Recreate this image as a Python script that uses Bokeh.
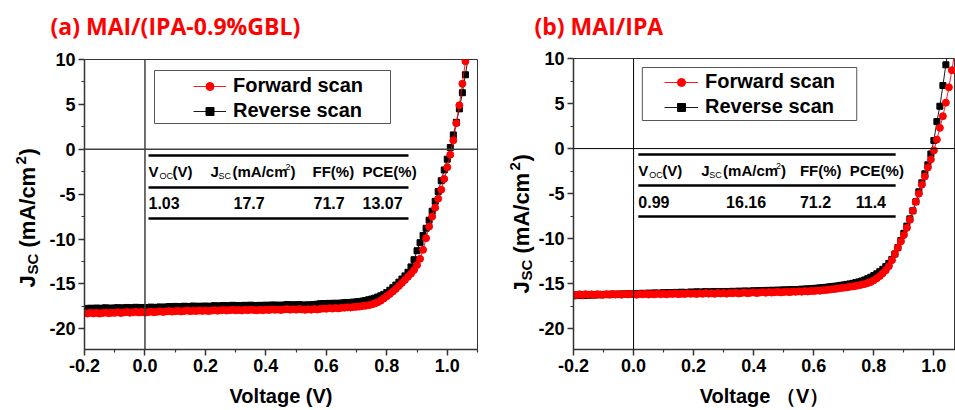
import numpy as np
from bokeh.plotting import figure
from bokeh.models import (Range1d, FixedTicker, Span, Legend, LegendItem,
                          BoxAnnotation, PrintfTickFormatter)
from bokeh.layouts import row, column
from bokeh.embed import file_html
from bokeh.resources import INLINE
from bokeh.core.properties import value

# ---------------- data ----------------
voltage = [
    -0.20, -0.19, -0.18, -0.17, -0.16, -0.15, -0.14, -0.13, -0.12, -0.11,
    -0.10, -0.09, -0.08, -0.07, -0.06, -0.05, -0.04, -0.03, -0.02, -0.01,
    0.00, 0.01, 0.02, 0.03, 0.04, 0.05, 0.06, 0.07, 0.08, 0.09,
    0.10, 0.11, 0.12, 0.13, 0.14, 0.15, 0.16, 0.17, 0.18, 0.19,
    0.20, 0.21, 0.22, 0.23, 0.24, 0.25, 0.26, 0.27, 0.28, 0.29,
    0.30, 0.31, 0.32, 0.33, 0.34, 0.35, 0.36, 0.37, 0.38, 0.39,
    0.40, 0.41, 0.42, 0.43, 0.44, 0.45, 0.46, 0.47, 0.48, 0.49,
    0.50, 0.51, 0.52, 0.53, 0.54, 0.55, 0.56, 0.57, 0.58, 0.59,
    0.60, 0.61, 0.62, 0.63, 0.64, 0.65, 0.66, 0.67, 0.68, 0.69,
    0.70, 0.71, 0.72, 0.73, 0.74, 0.75, 0.76, 0.77, 0.78, 0.79,
    0.80, 0.81, 0.82, 0.83, 0.84, 0.85, 0.86, 0.87, 0.88, 0.89,
    0.90, 0.91, 0.92, 0.93, 0.94, 0.95, 0.96, 0.97, 0.98, 0.99,
    1.00, 1.01, 1.02, 1.03, 1.04, 1.05, 1.06, 1.07,
]

a_forward = [
    -18.25, -18.30, -18.20, -18.28, -18.22, -18.30, -18.24, -18.18, -18.26, -18.20,
    -18.22, -18.15, -18.24, -18.18, -18.12, -18.20, -18.16, -18.10, -18.18, -18.12,
    -18.20, -18.14, -18.08, -18.15, -18.10, -18.05, -18.12, -18.06, -18.02, -18.08,
    -18.04, -18.00, -18.06, -18.02, -17.96, -18.03, -17.98, -18.02, -17.95, -18.00,
    -17.96, -18.02, -17.97, -17.92, -17.98, -17.94, -17.90, -17.96, -17.92, -17.88,
    -17.94, -17.90, -17.95, -17.88, -17.92, -17.86, -17.90, -17.94, -17.88, -17.92,
    -17.86, -17.90, -17.84, -17.88, -17.85, -17.90, -17.84, -17.80, -17.86, -17.82,
    -17.86, -17.80, -17.84, -17.88, -17.82, -17.86, -17.80, -17.84, -17.78, -17.74,
    -17.76, -17.70, -17.74, -17.68, -17.72, -17.66, -17.64, -17.60, -17.62, -17.56,
    -17.55, -17.52, -17.46, -17.42, -17.36, -17.28, -17.18, -17.04, -16.86, -16.62,
    -16.38, -16.12, -15.85, -15.55, -15.22, -14.88, -14.55, -14.20, -13.85, -13.45,
    -12.90, -12.20, -11.20, -9.90, -8.60, -7.50, -6.50, -5.50, -4.50, -3.30,
    -2.00, -0.60, 1.00, 2.90, 4.90, 7.30, 9.80, 12.30,
]

a_reverse = [
    -17.72, -17.78, -17.70, -17.76, -17.68, -17.74, -17.70, -17.66, -17.74, -17.68,
    -17.70, -17.64, -17.72, -17.66, -17.62, -17.70, -17.64, -17.60, -17.66, -17.62,
    -17.68, -17.62, -17.58, -17.64, -17.60, -17.56, -17.62, -17.56, -17.52, -17.58,
    -17.50, -17.56, -17.52, -17.48, -17.54, -17.50, -17.46, -17.52, -17.48, -17.50,
    -17.46, -17.52, -17.47, -17.42, -17.48, -17.44, -17.40, -17.46, -17.42, -17.38,
    -17.44, -17.40, -17.45, -17.38, -17.42, -17.36, -17.40, -17.44, -17.38, -17.42,
    -17.36, -17.40, -17.34, -17.38, -17.35, -17.40, -17.34, -17.30, -17.36, -17.32,
    -17.36, -17.30, -17.34, -17.38, -17.32, -17.36, -17.30, -17.26, -17.20, -17.18,
    -17.22, -17.16, -17.20, -17.14, -17.18, -17.12, -17.10, -17.06, -17.08, -17.02,
    -17.00, -16.96, -16.90, -16.84, -16.76, -16.68, -16.58, -16.46, -16.32, -16.16,
    -15.95, -15.70, -15.42, -15.12, -14.80, -14.45, -14.10, -13.70, -13.10, -12.30,
    -11.30, -10.40, -9.60, -8.80, -7.90, -6.90, -5.80, -4.70, -3.50, -2.30,
    -1.10, 0.20, 1.60, 3.00, 4.50, 6.30, 8.30, 10.40,
]

b_forward = [
    -16.20, -16.26, -16.18, -16.24, -16.16, -16.22, -16.18, -16.24, -16.16, -16.20,
    -16.22, -16.16, -16.20, -16.14, -16.20, -16.16, -16.22, -16.14, -16.18, -16.12,
    -16.18, -16.22, -16.14, -16.18, -16.12, -16.20, -16.14, -16.18, -16.10, -16.16,
    -16.12, -16.18, -16.10, -16.14, -16.08, -16.16, -16.10, -16.14, -16.06, -16.12,
    -16.08, -16.14, -16.06, -16.12, -16.04, -16.10, -16.06, -16.12, -16.02, -16.08,
    -16.04, -16.10, -16.02, -16.06, -16.00, -16.08, -16.02, -15.98, -16.06, -16.00,
    -15.96, -16.04, -15.98, -15.94, -16.00, -15.92, -15.98, -15.94, -15.90, -15.96,
    -15.92, -15.88, -15.94, -15.86, -15.90, -15.84, -15.88, -15.82, -15.86, -15.80,
    -15.82, -15.76, -15.78, -15.72, -15.70, -15.66, -15.62, -15.58, -15.54, -15.48,
    -15.44, -15.40, -15.34, -15.30, -15.24, -15.18, -15.10, -15.02, -14.92, -14.80,
    -14.62, -14.40, -14.15, -13.85, -13.50, -13.05, -12.40, -11.70, -11.00, -10.30,
    -9.60, -8.80, -7.90, -6.90, -5.90, -5.00, -4.00, -3.10, -2.10, -1.20,
    -0.20, 1.00, 2.30, 3.60, 5.10, 6.80, 8.70, 10.80,
]

b_reverse = [
    -16.34, -16.30, -16.28, -16.32, -16.26, -16.28, -16.22, -16.26, -16.20, -16.24,
    -16.20, -16.18, -16.22, -16.16, -16.20, -16.14, -16.18, -16.12, -16.16, -16.10,
    -16.14, -16.10, -16.12, -16.06, -16.10, -16.04, -16.08, -16.02, -16.06, -16.04,
    -16.00, -16.04, -15.98, -16.02, -15.96, -16.00, -15.94, -15.98, -15.96, -15.92,
    -15.96, -15.90, -15.94, -15.92, -15.88, -15.94, -15.90, -15.86, -15.92, -15.88,
    -15.90, -15.86, -15.90, -15.84, -15.88, -15.82, -15.86, -15.80, -15.84, -15.82,
    -15.78, -15.82, -15.76, -15.80, -15.74, -15.78, -15.72, -15.76, -15.70, -15.74,
    -15.68, -15.72, -15.66, -15.70, -15.64, -15.66, -15.60, -15.62, -15.56, -15.58,
    -15.52, -15.50, -15.46, -15.44, -15.40, -15.36, -15.32, -15.28, -15.24, -15.18,
    -15.14, -15.08, -15.02, -14.96, -14.88, -14.80, -14.70, -14.58, -14.44, -14.28,
    -14.10, -13.90, -13.66, -13.40, -13.10, -12.74, -12.30, -11.70, -11.00, -10.20,
    -9.40, -8.60, -7.80, -6.90, -5.90, -4.80, -3.80, -2.80, -1.80, -0.60,
    0.90, 3.00, 4.70, 7.00, 9.30, 11.60, 13.90, 16.20,
]

x_ticks = [-0.2, 0.0, 0.2, 0.4, 0.6, 0.8, 1.0]
x_minor = [-0.1, 0.1, 0.3, 0.5, 0.7, 0.9, 1.1]
y_ticks = [-20, -15, -10, -5, 0, 5, 10]
y_minor = [-22.5, -17.5, -12.5, -7.5, -2.5, 2.5, 7.5]

titles = ["(a) MAI/(IPA-0.9%GBL)", "(b) MAI/IPA"]
x_labels = ["Voltage (V)", "Voltage \uff08V\uff09"]
legend_labels = ["Forward scan", "Reverse scan"]
table_a = ["1.03", "17.7", "71.7", "13.07"]
table_b = ["0.99", "16.16", "71.2", "11.4"]

FONT = "Liberation Sans"
TOP = 40  # height of the title strip


def blank_fig(width, height, xr, yr, bt=0, bb=0):
    f = figure(width=width, height=height, x_range=Range1d(*xr), y_range=Range1d(*yr),
               output_backend="svg", toolbar_location=None,
               x_axis_location=None, y_axis_location=None,
               min_border_left=0, min_border_right=0, min_border_top=bt, min_border_bottom=bb)
    f.grid.visible = False
    f.outline_line_color = None
    f.background_fill_color = "white"
    f.border_fill_color = "white"
    return f


def make_panel(cfg):
    off = cfg["offset"]
    W = cfg["width"]
    lw = cfg["ylab_w"]
    PW = W - lw
    bl, br, bt, bb = cfg["borders"]
    x0, x1 = cfg["xr"]
    y0, y1 = cfg["yr"]
    PH = 410 - TOP
    fw = PW - bl - br
    fh = PH - bt - bb
    fl = off + lw + bl          # page px of frame left
    ft = TOP + bt               # page px of frame top
    fb = ft + fh                # page px of frame bottom

    def fx(px):
        return x0 + (px - fl) * (x1 - x0) / fw

    def fy(py):
        return y1 - (py - ft) * (y1 - y0) / fh

    p = figure(width=PW, height=PH, x_range=Range1d(x0, x1), y_range=Range1d(y0, y1),
               output_backend="svg", toolbar_location=None,
               min_border_left=bl, min_border_right=br,
               min_border_top=bt, min_border_bottom=bb)
    p.grid.visible = False
    p.outline_line_color = "#333333"
    p.outline_line_width = 1
    p.background_fill_color = "white"
    p.border_fill_color = "white"

    p.xaxis.ticker = FixedTicker(ticks=x_ticks, minor_ticks=x_minor)
    p.yaxis.ticker = FixedTicker(ticks=y_ticks, minor_ticks=y_minor)
    p.xaxis.formatter = PrintfTickFormatter(format="%.1f")
    p.yaxis.formatter = PrintfTickFormatter(format="%d")
    for ax in (p.xaxis[0], p.yaxis[0]):
        ax.axis_line_width = 1.5
        ax.axis_line_color = "#333333"
        ax.major_tick_out = 6
        ax.major_tick_in = 0
        ax.minor_tick_out = 3
        ax.minor_tick_in = 0
        ax.major_tick_line_color = "#333333"
        ax.major_tick_line_width = 1.5
        ax.minor_tick_line_color = "#333333"
        ax.minor_tick_line_width = 1.2
        ax.major_label_text_font = FONT
        ax.major_label_text_font_style = "bold"
        ax.major_label_text_font_size = "18px"
        ax.major_label_text_color = "black"
        ax.major_label_standoff = 3
    p.xaxis.axis_label = cfg["xlabel"]
    p.xaxis.axis_label_text_font = FONT
    p.xaxis.axis_label_text_font_style = "bold"
    p.xaxis.axis_label_text_font_size = "20px"
    p.xaxis.axis_label_text_color = "black"
    p.xaxis.axis_label_standoff = 10

    p.add_layout(Span(location=0, dimension="width", line_color=cfg["zero_color"],
                      line_width=cfg["zero_width"]))
    p.add_layout(Span(location=0, dimension="height", line_color=cfg["zero_color"],
                      line_width=cfg["zero_width"]))

    # curves
    lr = p.line(voltage, cfg["rev"], line_color="black", line_width=0.9)
    sr = p.scatter(voltage, cfg["rev"], marker="square", size=6, color="black")
    lf = p.line(voltage, cfg["fwd"], line_color="red", line_width=0.9)
    sf = p.scatter(voltage, cfg["fwd"], marker="circle", size=7, color="red")

    # legend
    lg = cfg["legend"]
    legend = Legend(items=[LegendItem(label=legend_labels[0], renderers=[lf, sf]),
                           LegendItem(label=legend_labels[1], renderers=[lr, sr])],
                    location=(lg["x"] - fl, fb - lg["bottom"]),
                    label_text_font=FONT, label_text_font_style="bold",
                    label_text_font_size="20px", label_text_color="black",
                    border_line_alpha=0, background_fill_alpha=0,
                    padding=3, spacing=2, margin=0,
                    glyph_width=lg["gw"], glyph_height=20, label_height=20,
                    label_standoff=7)
    p.add_layout(legend)
    bx = lg["box"]
    p.add_layout(BoxAnnotation(left=fx(bx[0]), right=fx(bx[1]), top=fy(bx[2]),
                               bottom=fy(bx[3]), fill_alpha=0, line_color="#555555",
                               line_alpha=1, line_width=1))

    # table
    tb = cfg["table"]
    ys = tb["lines"]
    p.segment(x0=[fx(tb["x"][0])] * 3, x1=[fx(tb["x"][1])] * 3,
              y0=[fy(v) for v in ys], y1=[fy(v) for v in ys],
              line_color="black", line_width=2.5)
    hy = tb["hy"]
    vy = tb["vy"]
    hx = tb["hx"]
    main = dict(text_font=value(FONT), text_font_style="bold", text_font_size=value("15px"),
                text_baseline="middle", text_align="left", text_color="black")
    small = dict(text_font=value(FONT), text_font_style="normal", text_font_size=value("9px"),
                 text_baseline="middle", text_align="left", text_color="black")
    pieces = [
        (0, "V", 0, "m"), (0, "OC", 11, "sub"), (0, "(V)", 24, "m"),
        (1, "J", 0, "m"), (1, "SC", 8, "sub"), (1, "(mA/cm", 22, "m"), (1, "2", 75, "sup"),
        (1, ")", 80, "m"),
        (2, "FF(%)", 0, "m"), (3, "PCE(%)", 0, "m"),
    ]
    for col, t, dx, kind in pieces:
        if kind == "m":
            p.text(x=[fx(hx[col] + dx)], y=[fy(hy)], text=[t], **main)
        elif kind == "sub":
            p.text(x=[fx(hx[col] + dx)], y=[fy(hy + 4)], text=[t], **small)
        else:
            p.text(x=[fx(hx[col] + dx)], y=[fy(hy - 5)], text=[t], **small)
    vals = dict(main)
    vals["text_font_size"] = value("16px")
    p.text(x=[fx(v) for v in tb["vx"]], y=[fy(vy)] * 4, text=cfg["tvals"], **vals)

    # title strip (page pixel coordinates)
    tf = blank_fig(W, TOP, (off, off + W), (TOP, 0))
    tf.text(x=[cfg["title_x"]], y=[25], text=[cfg["title"]], text_font=value("Open Sans"),
            text_font_style="bold", text_font_size=value("23px"), text_color="#ff0000",
            text_baseline="middle", text_align="left")

    # y label strip: J_SC (mA/cm^2), rotated; its frame matches the panel frame
    yf = blank_fig(lw, PH, (off, off + lw), (fb, ft), bt=bt, bb=bb)
    cx, by = cfg["ylabel"]
    parts = [("J", 0, 0, "22px"), ("SC", 13, 5, "15px"), ("(mA/cm", 40, 0, "22px"),
             ("2", 123, -7, "15px"), (")", 132, 0, "22px")]
    for t, dy, dxo, fs in parts:
        yf.text(x=[cx + dxo], y=[by - dy], text=[t], angle=np.pi / 2,
                text_font=value(FONT), text_font_style="bold", text_font_size=value(fs),
                text_color="black", text_baseline="middle", text_align="left")
    return column(tf, row(yf, p, spacing=0), spacing=0)


cfg_a = dict(offset=0, width=480, ylab_w=45, borders=(39, 3, 19, 61),
             xr=(-0.2, 1.1), yr=(-22.3, 10),
             fwd=a_forward, rev=a_reverse, xlabel=x_labels[0], title=titles[0], title_x=50,
             zero_color="#404040", zero_width=1.5, tvals=table_a,
             legend=dict(x=190, bottom=125, gw=33, box=(154, 390, 70, 123)),
             table=dict(x=(148, 408), lines=(155, 187, 218), hy=171, vy=202,
                        hx=(148, 210, 312, 362), vx=(148, 233, 313, 362)),
             ylabel=(27, 287))
cfg_b = dict(offset=480, width=475, ylab_w=55, borders=(37, 0, 18, 61),
             xr=(-0.2, 1.072), yr=(-22.3, 10),
             fwd=b_forward, rev=b_reverse, xlabel=x_labels[1], title=titles[1], title_x=534,
             zero_color="black", zero_width=1, tvals=table_b,
             legend=dict(x=660, bottom=121, gw=34, box=(641, 856, 67, 120)),
             table=dict(x=(637, 895), lines=(154, 185, 216), hy=170, vy=201,
                        hx=(637, 700, 799, 849), vx=(637, 725, 799, 855)),
             ylabel=(521, 293))

pa = make_panel(cfg_a)
pb = make_panel(cfg_b)
layout = row(pa, pb, spacing=0)

open("out.html", "w").write(file_html(layout, INLINE))
